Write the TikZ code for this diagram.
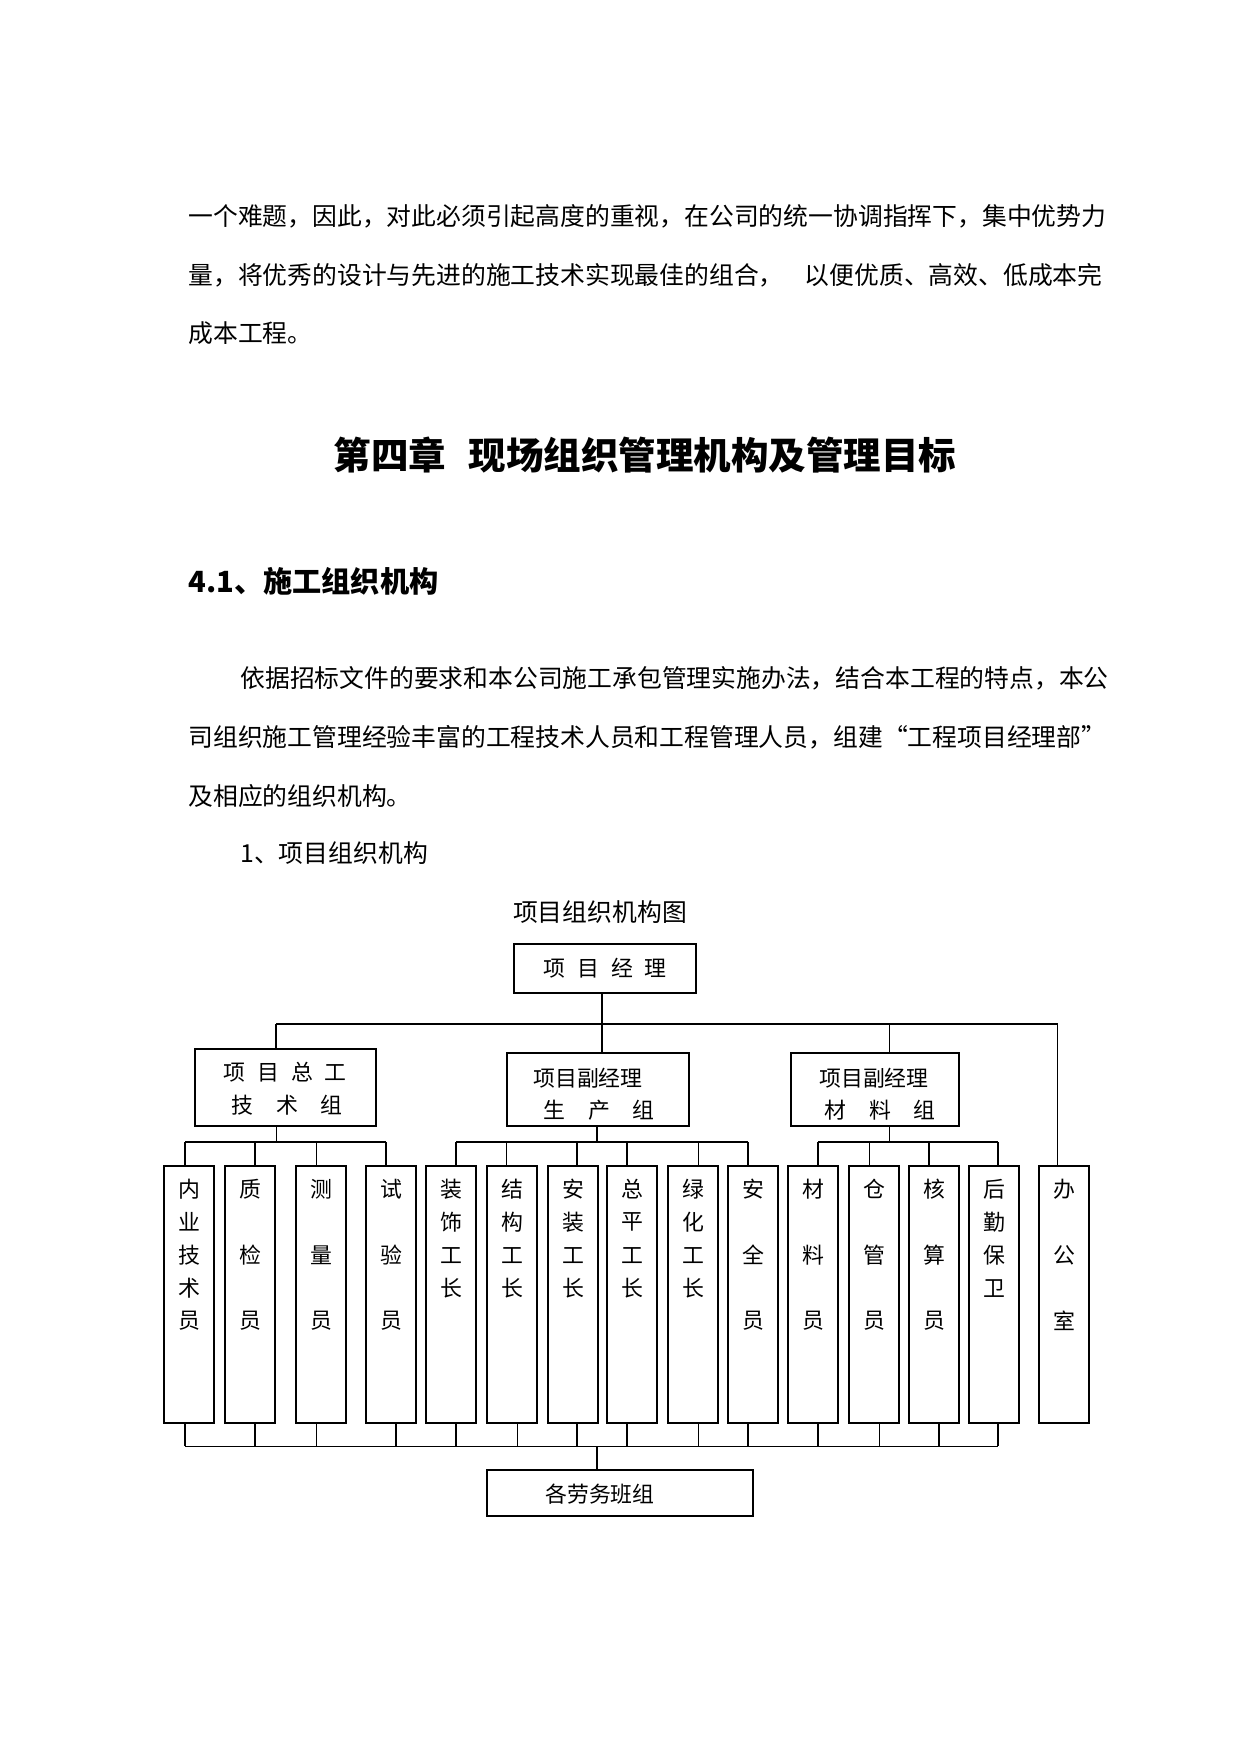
\documentclass[tikz,border=0pt]{standalone}
\usepackage{fontspec}
\setmainfont{Noto Sans CJK SC}
\usetikzlibrary{calc}
\newcommand\pxu{0.4797pt}
\tikzset{
  box/.style={draw, line width=0.8pt, inner sep=0pt, rectangle},
  vbox/.style={box, minimum width=50*\pxu, minimum height=257*\pxu},
  body/.style={inner sep=0pt, anchor=west, font=\fontsize{11.9pt}{14pt}\selectfont},
  lab/.style={inner sep=0pt, font=\fontsize{10.5pt}{12pt}\selectfont},
  thk/.style={line width=0.8pt},
  thn/.style={line width=0.45pt}
}
\newcommand\vlab[2]{\foreach \c/\r in {#2}{\node[lab] at ($(#1.north)+(0,24+33*\r)$) {\c};}}
\begin{document}
\begin{tikzpicture}[x=0.4797pt,y=-0.4797pt]
\fill[white] (0,0) rectangle (1241,1754);
\useasboundingbox (0,0) rectangle (1241,1754);

% body text
\node[body] (p1) at (188,216) {一个难题，因此，对此必须引起高度的重视，在公司的统一协调指挥下，集中优势力};
\node[body] (p2) at (188,275) {量，将优秀的设计与先进的施工技术实现最佳的组合，\hspace{0.85em}以便优质、高效、低成本完};
\node[body] (p3) at (188,333) {成本工程。};
\node[inner sep=0pt, font=\fontsize{18pt}{20pt}\selectfont\bfseries] (h1) at (645,455) {第四章\hspace{0.6em}现场组织管理机构及管理目标};
\node[body, font=\fontsize{14pt}{16pt}\selectfont\bfseries] (h2) at (188,581) {4.1、施工组织机构};
\node[body] (q1) at (240,678) {依据招标文件的要求和本公司施工承包管理实施办法，结合本工程的特点，本公};
\node[body] (q2) at (188,737) {司组织施工管理经验丰富的工程技术人员和工程管理人员，组建\makebox[1em][r]{“}工程项目经理部\makebox[1em][l]{”}};
\node[body] (q3) at (188,796) {及相应的组织机构。};
\node[body] (q4) at (240,853) {1、项目组织机构};
\node[inner sep=0pt, font=\fontsize{11.9pt}{14pt}\selectfont] (title) at (600,912) {项目组织机构图};

% top boxes
\node[box, minimum width=182*\pxu, minimum height=49*\pxu] (pm) at (605,968.5) {};
\node[lab] at (605,968) {项\hspace{0.55em}目\hspace{0.55em}经\hspace{0.55em}理};
\node[box, minimum width=181*\pxu, minimum height=77*\pxu] (g1) at (285.5,1087.5) {};
\node[lab] at (285,1072) {项\hspace{0.55em}目\hspace{0.55em}总\hspace{0.55em}工};
\node[lab] at (287,1105) {技\hspace{1.05em}术\hspace{1.05em}组};
\node[box, minimum width=182*\pxu, minimum height=73*\pxu] (g2) at (598,1089.5) {};
\node[lab] at (588,1078) {项目副经理};
\node[lab] at (599,1110) {生\hspace{1.05em}产\hspace{1.05em}组};
\node[box, minimum width=168*\pxu, minimum height=73*\pxu] (g3) at (875,1089.5) {};
\node[lab] at (874,1078) {项目副经理};
\node[lab] at (880,1110) {材\hspace{1.05em}料\hspace{1.05em}组};

% vertical boxes
\foreach \n/\x in {v1/164,v2/225,v3/296,v4/366,v5/426,v6/487,v7/548,v8/607,v9/668,v10/728,v11/788,v12/849,v13/909,v14/969,v15/1039}{
  \node[vbox] (\n) at (\x+25,1294.5) {};
}
\vlab{v1}{内/0,业/1,技/2,术/3,员/4}
\vlab{v2}{质/0,检/2,员/4}
\vlab{v3}{测/0,量/2,员/4}
\vlab{v4}{试/0,验/2,员/4}
\vlab{v5}{装/0,饰/1,工/2,长/3}
\vlab{v6}{结/0,构/1,工/2,长/3}
\vlab{v7}{安/0,装/1,工/2,长/3}
\vlab{v8}{总/0,平/1,工/2,长/3}
\vlab{v9}{绿/0,化/1,工/2,长/3}
\vlab{v10}{安/0,全/2,员/4}
\vlab{v11}{材/0,料/2,员/4}
\vlab{v12}{仓/0,管/2,员/4}
\vlab{v13}{核/0,算/2,员/4}
\vlab{v14}{后/0,勤/1,保/2,卫/3}
\vlab{v15}{办/0,公/2,室/4}

% bottom box
\node[box, minimum width=266*\pxu, minimum height=46*\pxu] (lab) at (620,1493) {};
\node[lab] at (600,1494) {各劳务班组};

% top bus
\coordinate (t0) at (602,1024);
\coordinate (tL) at (276,1024);
\coordinate (tR) at (1058,1024);
\coordinate (t3) at (889,1024);
\coordinate (t4) at (1057,1024);
\draw[thk] (t0 |- pm.south) -- (t0);
\draw[thk] (tL) -- (tR);
\draw[thk] (tL) -- (tL |- g1.north);
\draw[thk] (t0) -- (t0 |- g2.north);
\draw[thn] (t3) -- (t3 |- g3.north);
\draw[thn] (t4) -- (t4 |- v15.north);

% sub buses
\coordinate (s1a) at (185,1142); \coordinate (s1b) at (386,1142); \coordinate (s1c) at (276,1142);
\coordinate (s2a) at (456,1142); \coordinate (s2b) at (748,1142); \coordinate (s2c) at (597,1142);
\coordinate (s3a) at (818,1142); \coordinate (s3b) at (998,1142); \coordinate (s3c) at (889,1142);
\draw[thk] (s1a) -- (s1b);
\draw[thk] (s2a) -- (s2b);
\draw[thk] (s3a) -- (s3b);
\draw[thn] (s1c) -- (s1c |- g1.south);
\draw[thk] (s2c) -- (s2c |- g2.south);
\draw[thn] (s3c) -- (s3c |- g3.south);
\foreach \x/\n/\w in {185/v1/0.8,255/v2/0.8,316/v3/0.45,386/v4/0.8,456/v5/0.8,506/v6/0.45,577/v7/0.8,627/v8/0.8,698/v9/0.45,748/v10/0.8,818/v11/0.8,869/v12/0.45,929/v13/0.8,998/v14/0.8}{
  \coordinate (d) at (\x,1142);
  \draw[line width=\w pt] (d) -- (d |- \n.north);
}

% lower bus
\coordinate (bL) at (185,1446); \coordinate (bR) at (998,1446); \coordinate (bC) at (597,1446);
\draw[thn] (bL) -- (bR);
\foreach \x/\n/\w in {185/v1/0.8,255/v2/0.8,316/v3/0.45,396/v4/0.8,456/v5/0.8,517/v6/0.45,577/v7/0.8,627/v8/0.8,698/v9/0.45,748/v10/0.8,818/v11/0.8,879/v12/0.45,939/v13/0.8,998/v14/0.8}{
  \coordinate (e) at (\x,1446);
  \draw[line width=\w pt] (e) -- (e |- \n.south);
}
\draw[thk] (bC) -- (bC |- lab.north);
\end{tikzpicture}
\end{document}
